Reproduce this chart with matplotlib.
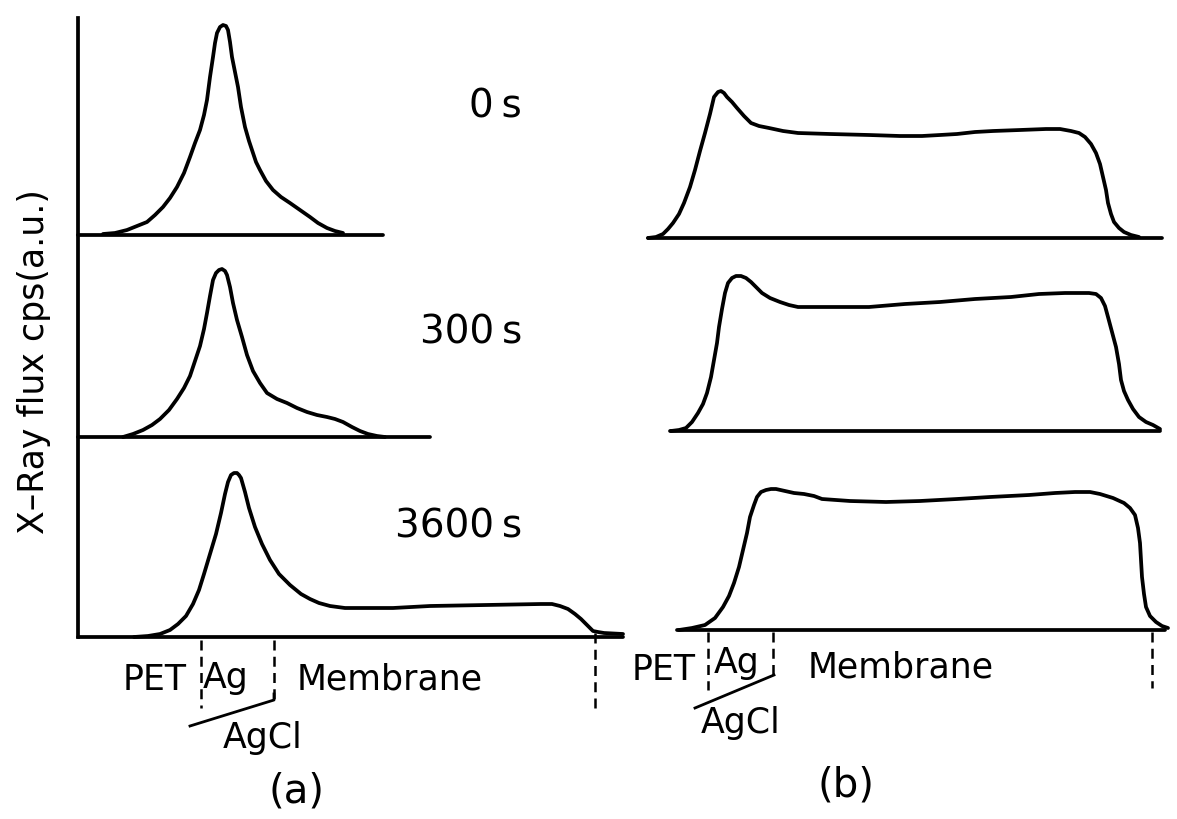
import matplotlib.pyplot as plt

plt.rcParams['font.family'] = ['DejaVu Sans']

H = 819  # canvas height in drawing units

# ---- panel (a): scan position and X-ray counts above each baseline ----
pos_a_0 = [103, 115, 127, 137, 147, 155, 163, 170, 177, 184, 190, 195, 200, 204,
           207, 210, 213, 215, 217, 220, 223, 226, 228, 230, 232, 235, 238, 241,
           245, 249, 253, 256, 260, 266, 273, 281, 290, 300, 310, 318, 327, 335, 343]
cps_a_0 = [1, 2, 5, 9, 13, 20, 28, 37, 48, 62, 78, 92, 105, 120,
           135, 158, 178, 192, 202, 208, 210, 209, 205, 193, 178, 163, 148, 128,
           108, 94, 82, 73, 65, 54, 45, 38, 32, 25, 18, 12, 7, 4, 2]

pos_a_300 = [123, 133, 143, 152, 160, 169, 177, 184, 190, 195, 200, 204, 207, 210,
             213, 216, 219, 222, 225, 227, 230, 233, 237, 242, 247, 253, 260, 267,
             277, 287, 297, 307, 317, 327, 335, 343, 352, 360, 368, 377, 385]
cps_a_300 = [0, 3, 7, 12, 18, 27, 38, 49, 61, 76, 91, 108, 124, 141,
             157, 164, 167, 168, 166, 162, 150, 134, 117, 100, 82, 66, 54, 44,
             38, 34, 29, 25, 22, 20, 18, 15, 10, 6, 3, 1, 0]

pos_a_3600 = [134, 148, 160, 170, 178, 186, 193, 199, 204, 210, 216, 221, 225, 228,
              231, 234, 237, 239, 241, 245, 249, 255, 262, 270, 279, 290, 301, 310,
              319, 330, 345, 370, 393, 430, 486, 541, 552, 560, 568, 575, 581, 586,
              590, 593, 598, 604, 623]
cps_a_3600 = [0, 1, 3, 7, 13, 21, 33, 47, 63, 83, 103, 124, 143, 155,
              162, 164, 164, 162, 159, 145, 129, 110, 93, 77, 63, 52, 43, 38,
              34, 31, 29, 29, 29, 31, 32, 33, 33, 31, 28, 23, 18, 13,
              9, 6, 5, 4, 3]

# ---- panel (b) ----
pos_b_0 = [648, 656, 663, 668, 673, 679, 684, 690, 695, 700, 705, 710, 714, 718,
           721, 724, 727, 732, 737, 744, 751, 759, 769, 783, 798, 830, 869, 900,
           922, 940, 957, 975, 993, 1020, 1046, 1060, 1071, 1079, 1085, 1091, 1096,
           1100, 1103, 1106, 1108, 1111, 1114, 1119, 1124, 1131, 1139]
cps_b_0 = [0, 1, 4, 9, 15, 24, 35, 51, 68, 87, 105, 124, 141, 146,
           147, 145, 141, 136, 130, 122, 115, 112, 110, 107, 105, 104, 103, 102,
           102, 103, 104, 106, 107, 108, 109, 109, 107, 105, 101, 94, 85,
           74, 61, 48, 35, 24, 16, 10, 6, 3, 1]

pos_b_300 = [671, 679, 686, 692, 698, 703, 707, 711, 714, 717, 719, 722, 725, 728,
             732, 736, 741, 746, 751, 756, 762, 770, 780, 789, 798, 830, 869, 905,
             940, 975, 1011, 1039, 1065, 1089, 1096, 1101, 1105, 1108, 1112, 1116,
             1119, 1121, 1124, 1128, 1133, 1139, 1146, 1153, 1160]
cps_b_300 = [0, 1, 3, 9, 18, 27, 38, 54, 71, 88, 104, 122, 138, 148,
             153, 155, 155, 153, 149, 144, 138, 133, 129, 126, 124, 124, 124, 127,
             129, 132, 134, 137, 138, 138, 137, 133, 125, 114, 99, 84,
             67, 51, 40, 31, 22, 14, 9, 6, 2]

pos_b_3600 = [679, 692, 705, 715, 723, 729, 734, 739, 743, 747, 750, 754, 757, 761,
              766, 771, 776, 785, 794, 804, 814, 822, 850, 886, 920, 957, 990, 1029,
              1055, 1075, 1090, 1100, 1113, 1124, 1130, 1135, 1138, 1140, 1141, 1142,
              1144, 1146, 1150, 1156, 1162, 1168]
cps_b_3600 = [0, 2, 5, 12, 23, 34, 47, 63, 80, 97, 113, 125, 133, 138,
              140, 141, 141, 139, 137, 136, 134, 131, 129, 128, 129, 131, 133, 135,
              137, 138, 138, 136, 132, 127, 122, 115, 102, 87, 70, 53,
              36, 23, 14, 8, 4, 2]

times = ['0\u2009s', '300\u2009s', '3600\u2009s']

# baselines (canvas y, from top) and their x extents
base_a = [235, 437, 637]
span_a = [(78, 383), (78, 430), (78, 623)]
base_b = [238, 431, 630]
span_b = [(648, 1162), (670, 1160), (677, 1165)]

curves_a = [(pos_a_0, cps_a_0), (pos_a_300, cps_a_300), (pos_a_3600, cps_a_3600)]
curves_b = [(pos_b_0, cps_b_0), (pos_b_300, cps_b_300), (pos_b_3600, cps_b_3600)]

fig = plt.figure(figsize=(11.77, 8.19), dpi=100)
ax = fig.add_axes([0, 0, 1, 1])
ax.set_xlim(0, 1177)
ax.set_ylim(0, H)
ax.axis('off')

lw = 2.7
for (px, cy), b, (x0, x1) in zip(curves_a + curves_b, base_a + base_b, span_a + span_b):
    y0 = H - b
    ax.plot([x0, x1], [y0, y0], color='black', lw=lw, solid_capstyle='round')
    ax.plot(px, [y0 + c for c in cy], color='black', lw=lw,
            solid_joinstyle='round', solid_capstyle='round')

# y axis of panel (a)
ax.plot([78, 78], [H - 18, H - base_a[-1]], color='black', lw=lw)

# time labels
for t, y in zip(times, [107, 333, 527]):
    ax.text(522, H - y, t, ha='right', va='center', fontsize=28)

ax.text(34, H - 362, 'X\u2013Ray flux cps(a.u.)', rotation=90, ha='center',
        va='center', fontsize=25)

# layer boundaries (dashed) and labels
dash = dict(color='black', lw=1.8, linestyle=(0, (4, 2.5)))
for x, y1, y2 in [(201, 640, 708), (274, 640, 700), (595, 633, 712)]:
    ax.plot([x, x], [H - y1, H - y2], **dash)
for x, y1, y2 in [(708, 632, 690), (773, 632, 675), (1152, 632, 688)]:
    ax.plot([x, x], [H - y1, H - y2], **dash)

ax.plot([190, 274, 274], [H - 726, H - 700, H - 694], color='black', lw=2.0)
ax.plot([695, 774], [H - 708, H - 675], color='black', lw=2.0)

fs = 25
ax.text(155, H - 690, 'PET', ha='center', va='baseline', fontsize=fs)
ax.text(203, H - 688, 'Ag', ha='left', va='baseline', fontsize=fs)
ax.text(297, H - 690, 'Membrane', ha='left', va='baseline', fontsize=fs)
ax.text(263, H - 748, 'AgCl', ha='center', va='baseline', fontsize=fs)
ax.text(296, H - 792, '(a)', ha='center', va='center', fontsize=29)

ax.text(664, H - 680, 'PET', ha='center', va='baseline', fontsize=fs)
ax.text(714, H - 673, 'Ag', ha='left', va='baseline', fontsize=fs)
ax.text(808, H - 678, 'Membrane', ha='left', va='baseline', fontsize=fs)
ax.text(741, H - 733, 'AgCl', ha='center', va='baseline', fontsize=fs)
ax.text(846, H - 785, '(b)', ha='center', va='center', fontsize=29)

fig.savefig('out.png', dpi=100)
